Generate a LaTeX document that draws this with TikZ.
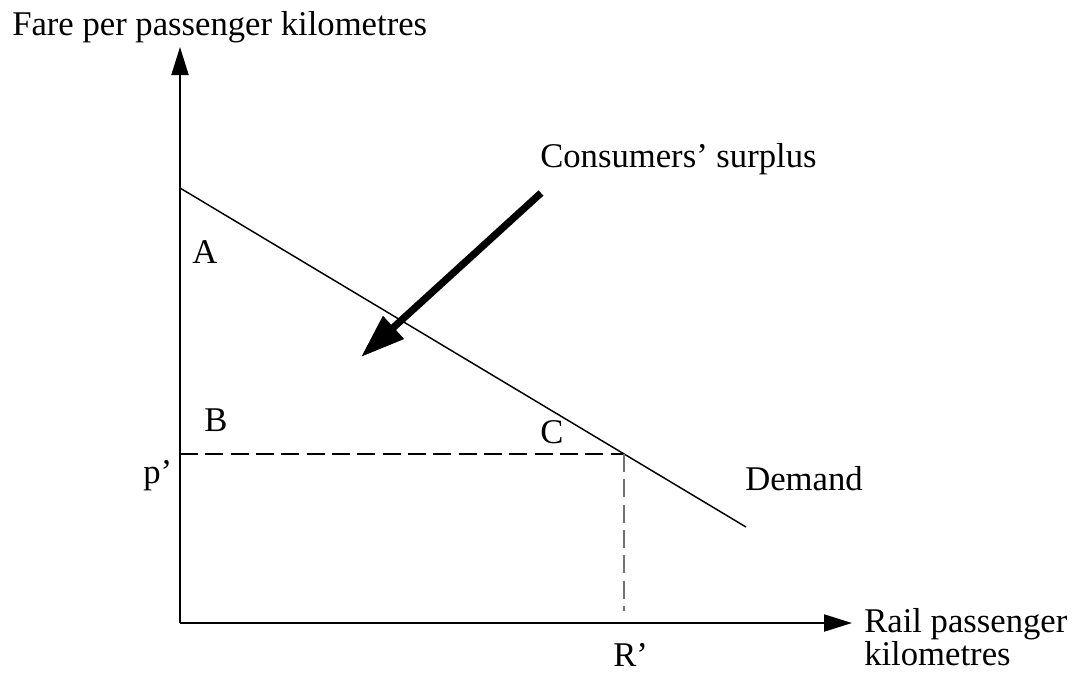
\documentclass[tikz,border=0pt]{standalone}
\usepackage{fontspec}
\setmainfont{Liberation Serif}
\usetikzlibrary{arrows.meta,positioning}

\begin{document}
\begin{tikzpicture}[
  x=0.75pt, y=-0.75pt,
  font=\fontsize{26}{23.5}\selectfont,
  axis/.style={line width=1.5pt, -{Triangle[length=21pt, width=12.75pt]}},
  demand/.style={line width=1.1pt},
  guide/.style={dash pattern=on 13.5pt off 5.5pt},
  bigarrow/.style={line width=5.4pt, -{Triangle[length=33pt, width=22pt]}},
  lbl/.style={inner sep=0pt, anchor=base west},
]
\useasboundingbox (0,0) rectangle (1079,679);

\coordinate (O) at (180,623);
\coordinate (ytip) at (180,47);
\coordinate (xtip) at (852,623);
\coordinate (dtop) at (180,188);
\coordinate (dbot) at (746,527);
\coordinate (pc) at (624,454);
\coordinate (pax) at (180,454);
\coordinate (rax) at (624,611);
\coordinate (cstail) at (541,193);
\coordinate (cshead) at (361,357);

\draw[axis] (O) -- (ytip);
\draw[axis] (O) -- (xtip);
\draw[demand] (dtop) -- (dbot);
\draw[guide, line width=0.8pt] (pax) -- (pc);
\draw[guide, line width=0.8pt, black!55] (pc) -- (rax);
\draw[bigarrow] (cstail) -- (cshead);

\node[lbl] (ylab) at (12,35) {Fare per passenger kilometres};
\node[lbl] (cslab) at (540,167) {Consumers’ surplus};
\node[lbl] (dlab) at (745,490) {Demand};
\node[lbl, align=left] (xlab) at (864,665) {Rail passenger\\kilometres};
\node[lbl] (a) at (192,263) {A};
\node[lbl] (b) at (204,431) {B};
\node[lbl] (c) at (540,443) {C};
\node[lbl] (p) at (143,483) {p’};
\node[lbl] (r) at (613,666) {R’};
\end{tikzpicture}
\end{document}
